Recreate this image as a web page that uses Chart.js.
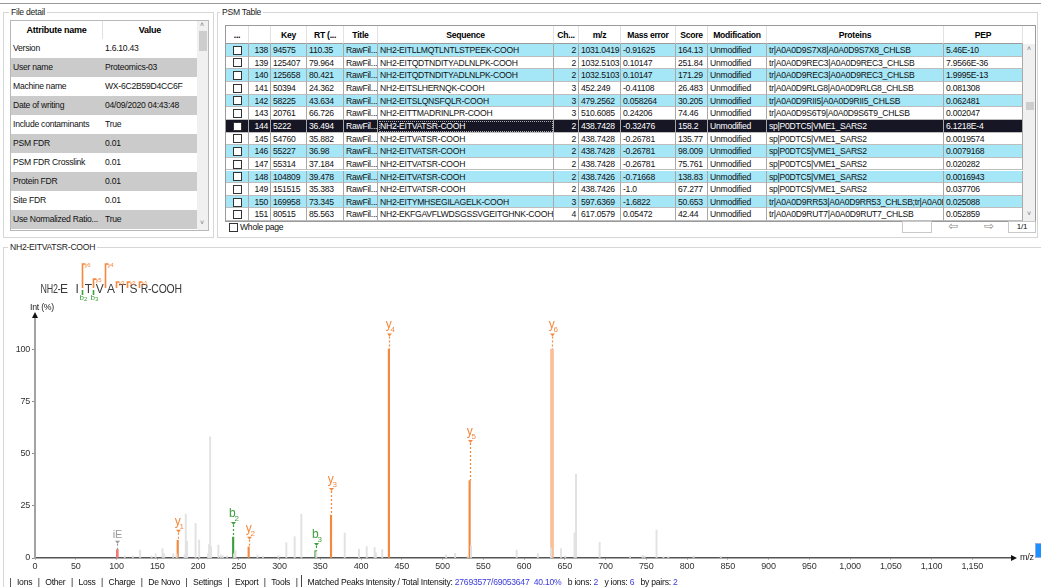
<!DOCTYPE html>
<html>
<head>
<meta charset="utf-8">
<script src="https://cdn.jsdelivr.net/npm/chart.js@4.4.1/dist/chart.umd.min.js"></script>
<style>
  body{margin:0;width:1041px;height:587px;overflow:hidden;background:#fff;position:relative;
       font-family:"Liberation Sans",Arial,sans-serif;font-size:8.6px;letter-spacing:-0.25px;color:#111}
  .abs{position:absolute}
  .grp{position:absolute;border:1px solid #d6d6d6;box-sizing:border-box}
  .lg{position:absolute;background:#fff;padding:0 2px;line-height:10px;color:#222}
  .cell{position:absolute;overflow:hidden;white-space:nowrap;box-sizing:border-box;padding:0 2px;}
  .hd{font-weight:bold;text-align:center;color:#000}
  .cb{position:absolute;width:9px;height:9px;border:1px solid #333;background:#fff;box-sizing:border-box}
  #bar{display:flex;align-items:center}
  #bar .p{margin:0 5.5px}
  #bar .b{color:#3a3adf}
</style>
</head>
<body>
<div class="abs" style="left:0;top:3px;width:1041px;height:1px;background:#9a9a9a"></div>

<!-- File detail -->
<div class="grp" style="left:3px;top:12px;width:211px;height:226px"></div>
<div class="lg" style="left:9px;top:7px">File detail</div>
<div id="fileTbl" class="abs" style="left:10px;top:20px;width:199px;height:211px;border:1px solid #b8b8b8;box-sizing:border-box;overflow:hidden"></div>

<!-- PSM table -->
<div class="grp" style="left:217px;top:12px;width:821px;height:226px"></div>
<div class="lg" style="left:220px;top:7px">PSM Table</div>
<div id="psmTbl" class="abs" style="left:225px;top:25px;width:811px;height:197px;border:1px solid #9a9a9a;box-sizing:border-box;overflow:hidden"></div>
<div class="cb" style="left:229px;top:223px"></div>
<div class="abs" style="left:240px;top:222px">Whole page</div>
<div class="abs" style="left:902px;top:221px;width:30px;height:12px;border:1px solid #c8c8c8;box-sizing:border-box"></div>
<div class="abs" style="left:948px;top:219px;font-family:'DejaVu Sans';font-size:12px;color:#888">&#x21E6;</div>
<div class="abs" style="left:984px;top:219px;font-family:'DejaVu Sans';font-size:12px;color:#888">&#x21E8;</div>
<div class="abs" style="left:1008px;top:221px;width:28px;height:12px;border:1px solid #c8c8c8;box-sizing:border-box;text-align:center;line-height:10px;font-size:8px">1/1</div>

<!-- Spectrum -->
<div class="grp" style="left:3px;top:247px;width:1045px;height:345px;border-right:none"></div>
<div class="lg" style="left:8px;top:242px">NH2-EITVATSR-COOH</div>
<canvas id="seq" class="abs" style="left:0;top:255px"></canvas>
<canvas id="spec" class="abs" style="left:0;top:290px"></canvas>
<div class="abs" style="left:1035px;top:543px;width:8px;height:13px;background:#1e90ff;border:1px solid #9ad"></div>

<div id="bar" class="abs" style="left:4px;top:575px;height:13px;white-space:nowrap">
  <span class="p">|</span>Ions<span class="p">|</span>Other<span class="p">|</span>Loss<span class="p">|</span>Charge<span class="p">|</span>De Novo<span class="p">|</span>Settings<span class="p">|</span>Export<span class="p">|</span>Tools<span class="p" style="margin-right:3px">|</span>
  <span style="display:inline-block;width:1px;height:14px;background:#444;margin-right:6px"></span>
  <span>Matched Peaks Intensity / Total Intensity:&nbsp;<span class="b">27693577/69053647&nbsp;&nbsp;40.10%</span>&nbsp;&nbsp;&nbsp;b ions:&nbsp;<span class="b">2</span>&nbsp;&nbsp;&nbsp;y ions:&nbsp;<span class="b">6</span>&nbsp;&nbsp;&nbsp;by pairs:&nbsp;<span class="b">2</span></span>
</div>

<script>
// ============ Data ============
const fileAttr = ["Version","User name","Machine name","Date of writing","Include contaminants","PSM FDR","PSM FDR Crosslink","Protein FDR","Site FDR","Use Normalized Ratio..."];
const fileVal  = ["1.6.10.43","Proteomics-03","WX-6C2B59D4CC6F","04/09/2020 04:43:48","True","0.01","0.01","0.01","0.01","True"];

const psmHead  = ["...","","Key","RT (...","Title","Sequence","Ch...","m/z","Mass error","Score","Modification","Proteins","PEP"];
const psmIdx   = [138,139,140,141,142,143,144,145,146,147,148,149,150,151];
const psmKey   = ["94575","125407","125658","50394","58225","20761","5222","54760","55227","55314","104809","151515","169958","80515"];
const psmRT    = ["110.35","79.964","80.421","24.362","43.634","66.726","36.494","35.882","36.98","37.184","39.478","35.383","73.345","85.563"];
const psmSeq   = ["NH2-EITLLMQTLNTLSTPEEK-COOH","NH2-EITQDTNDITYADLNLPK-COOH","NH2-EITQDTNDITYADLNLPK-COOH","NH2-EITSLHERNQK-COOH","NH2-EITSLQNSFQLR-COOH","NH2-EITTMADRINLPR-COOH","NH2-EITVATSR-COOH","NH2-EITVATSR-COOH","NH2-EITVATSR-COOH","NH2-EITVATSR-COOH","NH2-EITVATSR-COOH","NH2-EITVATSR-COOH","NH2-EITYMHSEGILAGELK-COOH","NH2-EKFGAVFLWDSGSSVGEITGHNK-COOH"];
const psmCharge= [2,2,2,3,3,3,2,2,2,2,2,2,3,4];
const psmMz    = ["1031.0419","1032.5103","1032.5103","452.249","479.2562","510.6085","438.7428","438.7428","438.7428","438.7428","438.7426","438.7426","597.6369","617.0579"];
const psmErr   = ["-0.91625","0.10147","0.10147","-0.41108","0.058264","0.24206","-0.32476","-0.26781","-0.26781","-0.26781","-0.71668","-1.0","-1.6822","0.05472"];
const psmScore = ["164.13","251.84","171.29","26.483","30.205","74.46","158.2","135.77","98.009","75.761","138.83","67.277","50.653","42.44"];
const psmProt  = ["tr|A0A0D9S7X8|A0A0D9S7X8_CHLSB","tr|A0A0D9REC3|A0A0D9REC3_CHLSB","tr|A0A0D9REC3|A0A0D9REC3_CHLSB","tr|A0A0D9RLG8|A0A0D9RLG8_CHLSB","tr|A0A0D9RII5|A0A0D9RII5_CHLSB","tr|A0A0D9S6T9|A0A0D9S6T9_CHLSB","sp|P0DTC5|VME1_SARS2","sp|P0DTC5|VME1_SARS2","sp|P0DTC5|VME1_SARS2","sp|P0DTC5|VME1_SARS2","sp|P0DTC5|VME1_SARS2","sp|P0DTC5|VME1_SARS2","tr|A0A0D9RR53|A0A0D9RR53_CHLSB;tr|A0A0D...","tr|A0A0D9RUT7|A0A0D9RUT7_CHLSB"];
const psmPEP   = ["5.46E-10","7.9566E-36","1.9995E-13","0.081308","0.062481","0.002047","6.1218E-4","0.0019574","0.0079168","0.020282","0.0016943","0.037706","0.025088","0.052859"];
const psmSelected = 6;

// spectrum
const peptide = "EITVATSR";
const grayMz  = [110,120,129,143,148,156.5,158.5,169.5,173.6,183.5,185,186.6,197,201.4,212.4,213.6,214.9,216,225,228,230.5,235.6,244.3,246,273,279.8,298.6,308.4,318.6,326.8,345.2,380,397.5,407,416.7,418.3,426,504.5,515.5,531,535,591,617,633,645.5,650.7,662,663.8,692.8,730,745.5,748,762.6,771,777,808,841.5];
const grayInt = [1,1,3.8,1,2,4.5,2,2,2,1.5,21,8,16.6,8.6,2,6.5,58,5.5,6.2,1.5,1,1,2,3.5,1.5,0.8,1.2,7.3,10.2,21,3,12,4.2,5.4,5,2.5,4,1.5,2.2,1,6,3.8,2,4.8,4.5,1,12,40,7.5,0.8,1.2,1,13.4,0.5,0.6,1,0.8];
const ionNames   = ["iE","y1","b2","y2","b3","y3","y4","y5","y6"];
const ionMz      = [101,175.12,243.13,262.15,344.18,363.2,434.24,533.29,634.36];
const ionInt     = [4,8.5,10,5.3,3.5,20.5,100,37,100];
const ionLabelAt = [7.8,13,16.7,9.7,6.7,33,107,56,107];
const highlightIon = "y6";
const yMaxTick = 100;
const xMaxTick = 1150;

// ============ Tables ============
const $ = (q) => document.querySelector(q);
function cell(parent, left, top, w, h, text, cls, style){
  const d = document.createElement("div");
  d.className = "cell " + (cls||"");
  d.style.cssText = `left:${left}px;top:${top}px;width:${w}px;height:${h}px;line-height:${h}px;` + (style||"");
  d.textContent = text;
  parent.appendChild(d);
  return d;
}

// file detail
(function(){
  const el = $("#fileTbl");
  const cw = [92, 94];
  cell(el, 0, 0, cw[0], 18, "Attribute name", "hd", "border-right:1px solid #e0e0e0;font-size:9px");
  cell(el, cw[0], 0, cw[1], 18, "Value", "hd", "font-size:9px");
  fileAttr.forEach((a,i)=>{
    const top = 18 + i*19, bg = i%2 ? "#cbcbcb" : "#fff";
    cell(el, 0, top, cw[0], 19, a, "", `background:${bg}`);
    cell(el, cw[0], top, cw[1], 19, fileVal[i], "", `background:${bg}`);
  });
  const sb = document.createElement("div");
  sb.style.cssText = "position:absolute;left:186px;top:0;width:12px;height:209px;background:#f0f0f0";
  sb.innerHTML = '<div style="position:absolute;left:2px;top:10px;width:8px;height:20px;background:#cdcdcd"></div>'+
    '<div style="position:absolute;left:3px;top:0;font-size:7px;color:#777">&#x02C4;</div>'+
    '<div style="position:absolute;left:3px;top:198px;font-size:7px;color:#777">&#x02C5;</div>';
  el.appendChild(sb);
})();

// PSM table
(function(){
  const el = $("#psmTbl");
  const cw = [23,22,36,37,34,176,25,42,55,32,59,177,79];
  const al = ["c","r","l","l","l","l","r","l","l","l","l","l","l"];
  const rowH = 12.65, headH = 18;
  let x = 0;
  cw.forEach((w,j)=>{
    cell(el, x, 0, w, headH, psmHead[j], "hd", "border-right:1px solid #e2e2e2;border-bottom:1px solid #9a9a9a");
    x += w;
  });
  psmIdx.forEach((n,i)=>{
    const top = headH + i*rowH;
    const sel = i === psmSelected;
    const bg = sel ? "#161624" : (i%2 ? "#fff" : "#a5e6f7");
    const fg = sel ? "#fff" : "#111";
    const vals = ["", n, psmKey[i], psmRT[i], "RawFil...", psmSeq[i], psmCharge[i], psmMz[i], psmErr[i], psmScore[i], "Unmodified", psmProt[i], psmPEP[i]];
    let xx = 0;
    cw.forEach((w,j)=>{
      let st = `background:${bg};color:${fg};border-right:1px solid #a8a8a8;border-bottom:1px solid #bdbdbd;text-align:${al[j]==="r"?"right":"left"};`;
      if (sel && j===5) st += "outline:1px dotted #aaa;outline-offset:-2px;";
      cell(el, xx, top, w, rowH, vals[j], "", st);
      xx += w;
    });
    const cb = document.createElement("div");
    cb.className = "cb";
    cb.style.cssText = `left:7px;top:${top+1.8}px`;
    el.appendChild(cb);
  });
  const sb = document.createElement("div");
  sb.style.cssText = `position:absolute;left:${cw.reduce((a,b)=>a+b,0)}px;top:${headH}px;width:14px;height:178px;background:#f0f0f0`;
  sb.innerHTML = '<div style="position:absolute;left:3px;top:58px;width:8px;height:8px;background:#cdcdcd"></div>'+
    '<div style="position:absolute;left:4px;top:1px;font-size:7px;color:#777">&#x02C4;</div>'+
    '<div style="position:absolute;left:4px;top:166px;font-size:7px;color:#777">&#x02C5;</div>';
  el.appendChild(sb);
})();

// ============ Spectrum ============
const FONT = "Liberation Sans, Arial, sans-serif";
const ionType = ionNames.map(n => n === "iE" ? "imm" : n[0]);
const ionColor = { y:"#f5883f", b:"#3ca03c", imm:"#f07a7a" };
const pick = (fn) => ionNames.map((n,i)=> fn(n,i) ? { x: ionMz[i], y: ionInt[i] } : null).filter(Boolean);

// sequence header with fragment markers (plain canvas above the chart)
(function(){
  const cv = $("#seq");
  cv.width = 220; cv.height = 46;
  cv.style.width = "220px"; cv.style.height = "46px";
  const ctx = cv.getContext("2d");
  const base = 38, slot = 11.3, firstC = 64;
  ctx.font = `12px ${FONT}`; ctx.fillStyle = "#3a3a3a"; ctx.textBaseline = "alphabetic";
  ctx.textAlign = "right";
  ctx.fillText("NH2-", firstC - 3.5, base, 20);
  ctx.textAlign = "center";
  for (let k=0;k<peptide.length;k++){
    const c = k===0 ? firstC : firstC + 13 + (k-1)*slot;
    if (k === peptide.length-1){ ctx.textAlign="left"; ctx.fillText(peptide[k] + "-COOH", c - 4, base, 41); }
    else ctx.fillText(peptide[k], c, base);
  }
  const cut = (k) => firstC + 13 + (k-1)*slot - slot/2 - 0.5;   // after residue k
  ionNames.forEach((name,i)=>{
    if (ionType[i] === "imm") return;
    const n = Number(name.slice(1));
    if (ionType[i] === "y"){
      const cx = Math.round(cut(peptide.length - n)) + 0.5;
      const h = Math.max(6, 24 * ionInt[i] / 100);
      ctx.strokeStyle = ionColor.y; ctx.lineWidth = 1.6;
      ctx.beginPath(); ctx.moveTo(cx, base - 5); ctx.lineTo(cx, base - 5 - h); ctx.lineTo(cx + 3, base - 5 - h); ctx.stroke();
      ctx.font = `6px ${FONT}`; ctx.fillStyle = ionColor.y; ctx.textAlign = "left";
      ctx.fillText(name, cx + 2, base - 5 - h + 3);
    } else {
      const cx = Math.round(cut(n)) + 0.5;
      ctx.strokeStyle = ionColor.b; ctx.lineWidth = 1.6;
      ctx.beginPath(); ctx.moveTo(cx, base - 3); ctx.lineTo(cx, base + 2); ctx.stroke();
      ctx.fillStyle = ionColor.b; ctx.textAlign = "center";
      ctx.font = `8px ${FONT}`; ctx.fillText("b", cx - 1, base + 7);
      ctx.font = `6px ${FONT}`; ctx.fillText(String(n), cx + 3, base + 8);
    }
  });
})();

// peak labels, dotted leaders, axis arrows and titles
const specAnnot = {
  id: "specAnnot",
  afterDraw(chart){
    const { ctx, chartArea, scales:{ x, y } } = chart;
    ctx.save();
    ionNames.forEach((name,i)=>{
      const px = Math.round(x.getPixelForValue(ionMz[i])) + 0.5;
      const top = y.getPixelForValue(ionInt[i]);
      const tip = y.getPixelForValue(ionLabelAt[i]);
      const col = ionType[i] === "imm" ? "#9a9a9a" : ionColor[ionType[i]];
      ctx.strokeStyle = col; ctx.lineWidth = 1.2;
      ctx.setLineDash([2,2]);
      ctx.beginPath(); ctx.moveTo(px, tip + 2); ctx.lineTo(px, top); ctx.stroke();
      ctx.setLineDash([]);
      ctx.fillStyle = col;
      ctx.beginPath(); ctx.moveTo(px-2.5, tip-1); ctx.lineTo(px+2.5, tip-1); ctx.lineTo(px, tip+2); ctx.closePath(); ctx.fill();
      ctx.textBaseline = "alphabetic";
      if (ionType[i] === "imm"){
        ctx.font = `11px ${FONT}`; ctx.textAlign = "center";
        ctx.fillText(name, px, tip - 4);
      } else {
        ctx.font = `12px ${FONT}`; ctx.textAlign = "right";
        ctx.fillText(name[0], px + 2, tip - 6);
        ctx.font = `8px ${FONT}`; ctx.textAlign = "left";
        ctx.fillText(name.slice(1), px + 1, tip - 2);
      }
    });
    const x0 = chartArea.left, y0 = chartArea.bottom;
    ctx.fillStyle = "#111";
    ctx.beginPath(); ctx.moveTo(x0, chartArea.top - 3); ctx.lineTo(x0-3, chartArea.top + 3); ctx.lineTo(x0+3, chartArea.top + 3); ctx.closePath(); ctx.fill();
    ctx.beginPath(); ctx.moveTo(chartArea.right + 4, y0); ctx.lineTo(chartArea.right - 2, y0 - 3); ctx.lineTo(chartArea.right - 2, y0 + 3); ctx.closePath(); ctx.fill();
    ctx.font = `9px ${FONT}`; ctx.fillStyle = "#222";
    ctx.textAlign = "left"; ctx.textBaseline = "middle";
    ctx.fillText("Int (%)", x0 - 5, chartArea.top - 7, 24);
    ctx.fillText("m/z", chartArea.right + 7, y0);
    ctx.restore();
  }
};

const canvas = $("#spec");
canvas.width = 1041; canvas.height = 290;
canvas.style.width = "1041px"; canvas.style.height = "290px";

new Chart(canvas, {
  type: "bar",
  data: {
    datasets: [
      { data: grayMz.map((m,i)=>({ x:m, y:grayInt[i] })), backgroundColor:"#e2e2e2", barThickness:1.3 },
      { data: pick((n,i)=> ionType[i]==="imm"), backgroundColor:ionColor.imm, barThickness:2 },
      { data: pick((n,i)=> ionType[i]==="b"), backgroundColor:ionColor.b, barThickness:1.5 },
      { data: pick((n,i)=> ionType[i]==="y" && n!==highlightIon), backgroundColor:ionColor.y, barThickness:1.5 },
      { data: pick((n)=> n===highlightIon), backgroundColor:"#f9bf98", barThickness:3 }
    ]
  },
  options: {
    responsive:false, animation:false,
    datasets:{ bar:{ grouped:false, borderWidth:0 } },
    layout:{ padding:{ top:25, right:28 } },
    plugins:{ legend:{ display:false }, tooltip:{ enabled:false } },
    scales:{
      x:{
        type:"linear", min:0, max:1200, offset:false,
        grid:{ display:true, offset:false, drawOnChartArea:false, drawTicks:true, tickLength:2, color:"#bbb" },
        border:{ display:true, color:"#555", width:1.5 },
        ticks:{ stepSize:50, maxRotation:0, minRotation:0, autoSkip:false, maxTicksLimit:100, padding:1, color:"#333", font:{ family:FONT, size:9 },
                callback:(v)=> Number(v).toLocaleString("en-US") },
        afterBuildTicks:(s)=>{ s.ticks = s.ticks.filter(t => t.value <= xMaxTick); },
        afterFit:(s)=>{ s.height = 22; }
      },
      y:{
        type:"linear", min:0, max:116.3,
        grid:{ display:true, drawOnChartArea:false, drawTicks:true, tickLength:3, color:"#888" },
        border:{ display:true, color:"#a3a3a3", width:2 },
        ticks:{ stepSize:25, autoSkip:false, autoSkipPadding:0, maxTicksLimit:100, padding:2, color:"#333", font:{ family:FONT, size:9 },
                callback:(v)=> String(v) },
        afterBuildTicks:(s)=>{ s.ticks = s.ticks.filter(t => t.value <= yMaxTick); },
        afterFit:(s)=>{ s.width = 35; }
      }
    }
  },
  plugins:[specAnnot]
});
</script>
</body>
</html>
